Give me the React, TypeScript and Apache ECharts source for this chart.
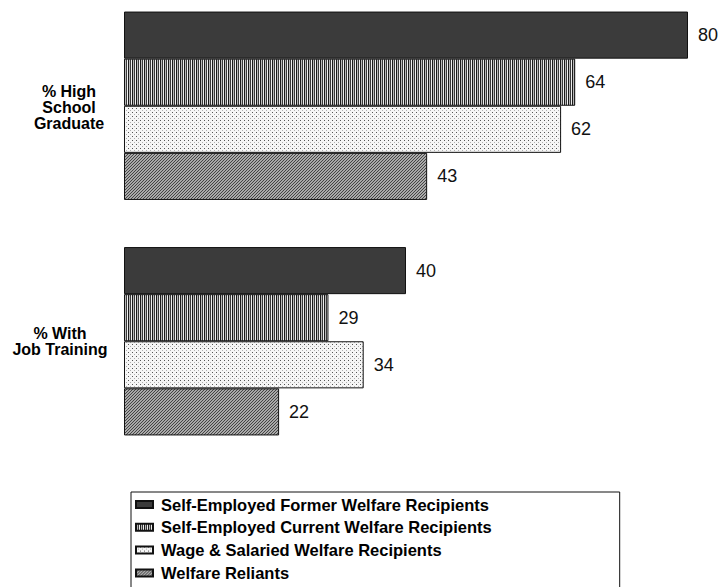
import React, { useEffect, useRef } from "react";
import * as echarts from "echarts";

const categories = ["% High\nSchool\nGraduate", "% With\nJob Training"];
const seriesNames = [
  "Self-Employed Former Welfare Recipients",
  "Self-Employed Current Welfare Recipients",
  "Wage & Salaried Welfare Recipients",
  "Welfare Reliants",
];
const formerValues = [80, 40];
const currentValues = [64, 29];
const wageValues = [62, 34];
const reliantValues = [43, 22];

const FONT = "'Liberation Sans', Arial, Helvetica, sans-serif";

function makePattern(w: number, h: number, draw: (ctx: CanvasRenderingContext2D) => void) {
  const c = document.createElement("canvas");
  c.width = w;
  c.height = h;
  const ctx = c.getContext("2d") as CanvasRenderingContext2D;
  draw(ctx);
  return { image: c.toDataURL(), repeat: "repeat", imageWidth: w, imageHeight: h };
}

function px(ctx: CanvasRenderingContext2D, x: number, y: number, color: string) {
  ctx.fillStyle = color;
  ctx.fillRect(x, y, 1, 1);
}

export default function App() {
  const ref = useRef<HTMLDivElement>(null);

  useEffect(() => {
    if (!ref.current) return;
    const chart = echarts.init(ref.current, undefined, { renderer: "svg" });

    const vertical = makePattern(4, 1, (ctx) => {
      px(ctx, 0, 0, "#1a1a1a");
      px(ctx, 1, 0, "#b8b8b8");
      px(ctx, 2, 0, "#3a3a3a");
      px(ctx, 3, 0, "#eeeeee");
    });
    const dots = makePattern(4, 4, (ctx) => {
      ctx.fillStyle = "#f6f6f6";
      ctx.fillRect(0, 0, 4, 4);
      px(ctx, 0, 0, "#555555");
      px(ctx, 2, 2, "#b0b0b0");
    });
    const diag = makePattern(3, 3, (ctx) => {
      ctx.fillStyle = "#aaaaaa";
      ctx.fillRect(0, 0, 3, 3);
      for (let i = 0; i < 3; i++) px(ctx, i, 2 - i, "#454545");
    });

    const fills: any[] = ["#3b3b3b", vertical, dots, diag];
    const valueSets = [formerValues, currentValues, wageValues, reliantValues];
    const richKeys = ["a", "b"];

    chart.setOption({
      animation: false,
      backgroundColor: "#ffffff",
      legend: {
        orient: "vertical",
        left: 131,
        top: 492,
        height: 200,
        padding: [4, 128, 40, 4],
        itemWidth: 17,
        itemHeight: 7,
        itemGap: 5.8,
        borderColor: "#111",
        borderWidth: 1,
        icon: "rect",
        textStyle: {
          fontFamily: FONT,
          fontWeight: "bold",
          fontSize: 16.5,
          color: "#000",
          padding: [0, 0, 0, 3],
        },
        data: seriesNames,
      },
      grid: { left: 124, width: 564, top: -12, height: 471, outerBoundsMode: "none", containLabel: false },
      xAxis: {
        type: "value",
        min: 0,
        max: 80,
        show: false,
        splitLine: { show: false },
      },
      yAxis: {
        type: "category",
        inverse: true,
        data: categories,
        axisLine: { show: false },
        axisTick: { show: false },
        axisLabel: {
          margin: 0,
          fontFamily: FONT,
          fontWeight: "bold",
          fontSize: 16,
          lineHeight: 16,
          color: "#000",
          formatter: (value: string, idx: number) =>
            value
              .split("\n")
              .map((line) => `{${richKeys[idx]}|${line}}`)
              .join("\n"),
          rich: {
            a: {
              width: 110,
              align: "center",
              fontFamily: FONT,
              fontWeight: "bold",
              fontSize: 16,
              lineHeight: 16,
              color: "#000",
              padding: [4, 0, 0, 0],
            },
            b: {
              width: 128,
              align: "center",
              fontFamily: FONT,
              fontWeight: "bold",
              fontSize: 16,
              lineHeight: 16,
              color: "#000",
            },
          },
        },
      },
      series: seriesNames.map((name, i) => ({
        name,
        type: "bar",
        data: valueSets[i],
        barGap: "0%",
        barCategoryGap: "20%",
        itemStyle: { color: fills[i], borderColor: "#111", borderWidth: 1 },
        label: {
          show: true,
          position: "right",
          distance: 10,
          fontFamily: FONT,
          fontSize: 18,
          color: "#111",
        },
      })),
    });

    return () => chart.dispose();
  }, []);

  return (
    <div
      ref={ref}
      style={{ position: "fixed", left: 0, top: 0, width: 720, height: 587, background: "#fff" }}
    />
  );
}
